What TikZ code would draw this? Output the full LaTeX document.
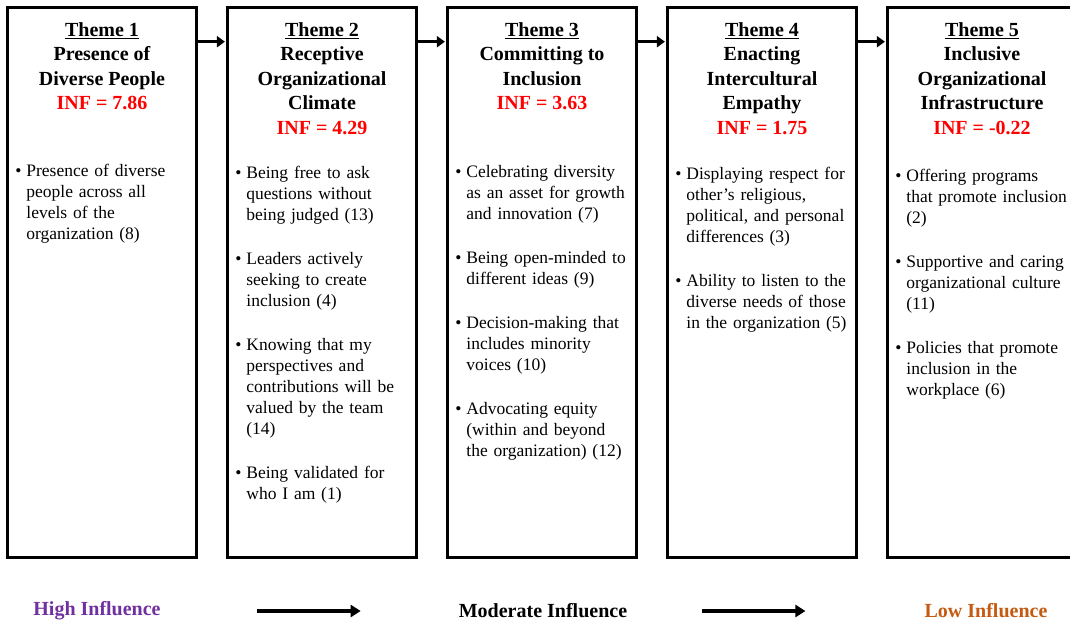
\documentclass[tikz,border=0pt]{standalone}
\usepackage{fontspec}
\setmainfont{Liberation Serif}
\usepackage{enumitem}
\usetikzlibrary{arrows.meta,positioning}
\definecolor{infred}{RGB}{255,0,0}
\definecolor{highpurple}{RGB}{112,48,160}
\definecolor{loworange}{RGB}{197,90,17}
\setlist[itemize]{label={\textbullet},leftmargin=11pt,labelsep=5pt,itemsep=23pt,topsep=0pt,parsep=0pt,partopsep=0pt}

\begin{document}
\begin{tikzpicture}[x=1pt,y=-1pt,
	themebox/.style={draw,line width=2.6pt,minimum width=189pt,minimum height=550pt,inner sep=0pt},
	themetitle/.style={anchor=north,align=center,inner sep=0pt,font=\fontsize{20}{24.5}\selectfont\bfseries},
	itemlist/.style={anchor=north west,inner sep=0pt,text width=175pt,font=\fontsize{17.5}{21}\selectfont\raggedright},
	influence/.style={inner sep=0pt,font=\fontsize{20}{24}\selectfont\bfseries},
	flow/.style={line width=3.5pt,shorten >=1.3pt,-{Triangle[length=8pt,width=11pt]}},
	bigflow/.style={line width=4pt,-{Triangle[length=10pt,width=12pt]}}]
		\useasboundingbox (0,0) rectangle (1070,625);
		\clip (0,0) rectangle (1070,625);
		\foreach \i in {1,...,5}
			\node[themebox] (box\i) at ({102+220*(\i-1)},282.5) {};
		\foreach \i [count=\j from 2] in {1,...,4}
			\draw[flow] ([yshift=-35.5pt]box\i.north east) -- ([yshift=-35.5pt]box\j.north west);
		
		% titres
		\node[themetitle] (title1) at ([yshift=-16pt]box1.north) {\underline{Theme 1}\\Presence of\\Diverse People\\\textcolor{infred}{INF = 7.86}};
		\node[themetitle] (title2) at ([yshift=-16pt]box2.north) {\underline{Theme 2}\\Receptive\\Organizational\\Climate\\\textcolor{infred}{INF = 4.29}};
		\node[themetitle] (title3) at ([yshift=-16pt]box3.north) {\underline{Theme 3}\\Committing to\\Inclusion\\\textcolor{infred}{INF = 3.63}};
		\node[themetitle] (title4) at ([yshift=-16pt]box4.north) {\underline{Theme 4}\\Enacting\\Intercultural\\Empathy\\\textcolor{infred}{INF = 1.75}};
		\node[themetitle] (title5) at ([yshift=-16pt]box5.north) {\underline{Theme 5}\\Inclusive\\Organizational\\Infrastructure\\\textcolor{infred}{INF = -0.22}};
		
		% listes
		\node[itemlist] (items1) at ([xshift=9pt,yshift=-149pt]box1.north west) {\begin{itemize}
			\item Presence of diverse\\people across all\\levels of the\\organization (8)
		\end{itemize}};
		\node[itemlist] (items2) at ([xshift=9pt,yshift=-151pt]box2.north west) {\begin{itemize}
			\item Being free to ask\\questions without\\being judged (13)
			\item Leaders actively\\seeking to create\\inclusion (4)
			\item Knowing that my\\perspectives and\\contributions will be\\valued by the team\\(14)
			\item Being validated for\\who I am (1)
		\end{itemize}};
		\node[itemlist] (items3) at ([xshift=9pt,yshift=-150pt]box3.north west) {\begin{itemize}
			\item Celebrating diversity\\as an asset for growth\\and innovation (7)
			\item Being open-minded to\\different ideas (9)
			\item Decision-making that\\includes minority\\voices (10)
			\item Advocating equity\\(within and beyond\\the organization) (12)
		\end{itemize}};
		\node[itemlist] (items4) at ([xshift=9pt,yshift=-152pt]box4.north west) {\begin{itemize}
			\item Displaying respect for\\other’s religious,\\political, and personal\\differences (3)
			\item Ability to listen to the\\diverse needs of those\\in the organization (5)
		\end{itemize}};
		\node[itemlist] (items5) at ([xshift=9pt,yshift=-154pt]box5.north west) {\begin{itemize}
			\item Offering programs\\that promote inclusion\\(2)
			\item Supportive and caring\\organizational culture\\(11)
			\item Policies that promote\\inclusion in the\\workplace (6)
		\end{itemize}};
		
		% echelle d'influence
		\node[influence,text=highpurple] (high) at (97,611) {High Influence};
		\node[influence] (moderate) at (543,611) {Moderate Influence};
		\node[influence,text=loworange] (low) at (986,611) {Low Influence};
		\draw[bigflow,shorten <=96pt,shorten >=98pt] (high) -- (moderate);
		\draw[bigflow,shorten <=75pt,shorten >=119pt] (moderate) -- (low);
		
	\end{tikzpicture}
\end{document}
